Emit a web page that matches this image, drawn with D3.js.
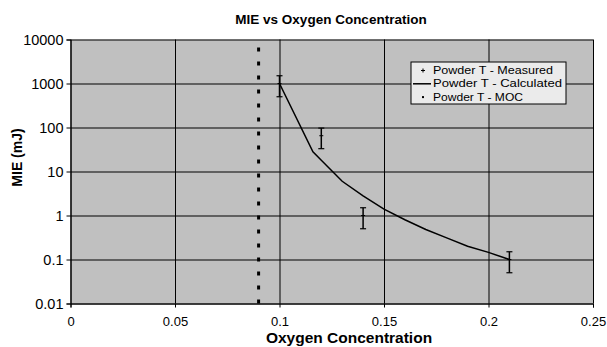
<!DOCTYPE html>
<html>
<head>
<meta charset="utf-8">
<script src="https://cdn.jsdelivr.net/npm/d3@7"></script>
<style>
  body { margin: 0; background: #fff; }
  text { font-family: "Liberation Sans", Arial, sans-serif; }
</style>
</head>
<body>
<figure id="chart" style="margin:0"></figure>
<script>
// measured MIE points with error bars
const measuredX = [0.10, 0.12, 0.14, 0.21];
const measuredY = [1000, 65, 1, 0.1];
const measuredErr = [500, 32, 0.5, 0.05];

// calculated curve
const calcX = [0.10, 0.116, 0.12, 0.13, 0.14, 0.15, 0.16, 0.17, 0.18, 0.19, 0.20, 0.21];
const calcY = [1000, 28, 18, 6, 2.8, 1.4, 0.8, 0.48, 0.31, 0.2, 0.145, 0.1];

// MOC vertical line
const mocX = [0.09, 0.09];
const mocY = [0.01, 10000];

const xTicks = [0, 0.05, 0.1, 0.15, 0.2, 0.25];
const yTicks = [0.01, 0.1, 1, 10, 100, 1000, 10000];
const seriesNames = ["Powder T - Measured", "Powder T - Calculated", "Powder T - MOC"];

const width = 607, height = 347;
const margin = { top: 39.5, right: 14, bottom: 43.5, left: 70.5 };

const svg = d3.select("figure#chart")
  .append("svg")
  .attr("width", width)
  .attr("height", height);

const x = d3.scaleLinear()
  .domain([0, 0.25])
  .range([margin.left, width - margin.right]);

const y = d3.scaleLog()
  .domain([0.01, 10000])
  .range([height - margin.bottom, margin.top]);

// plot area
svg.append("rect")
  .attr("x", x(0))
  .attr("y", y(10000))
  .attr("width", x(0.25) - x(0))
  .attr("height", y(0.01) - y(10000))
  .attr("fill", "#c0c0c0");

// grid lines
svg.append("g")
  .attr("transform", "translate(" + x(0) + ",0)")
  .call(d3.axisLeft(y).tickValues(yTicks).tickSize(-(x(0.25) - x(0))).tickFormat(""))
  .call(g => g.select(".domain").remove())
  .selectAll("line").attr("stroke", "#000");

svg.append("g")
  .attr("transform", "translate(0," + y(0.01) + ")")
  .call(d3.axisBottom(x).tickValues(xTicks).tickSize(-(y(0.01) - y(10000))).tickFormat(""))
  .call(g => g.select(".domain").remove())
  .selectAll("line").attr("stroke", "#000");

// axes
const fmtY = d => d < 1 ? String(d) : d3.format("d")(d);
svg.append("g")
  .attr("transform", "translate(" + x(0) + ",0)")
  .call(d3.axisLeft(y).tickValues(yTicks).tickSize(4).tickPadding(3).tickFormat(fmtY))
  .call(g => g.selectAll("text").attr("font-size", 14.5).attr("fill", "#000").attr("font-family", "Liberation Sans"))
  .call(g => g.selectAll("line, path").attr("stroke", "#000"));

svg.append("g")
  .attr("transform", "translate(0," + y(0.01) + ")")
  .call(d3.axisBottom(x).tickValues(xTicks).tickSize(4).tickPadding(9).tickFormat(d => String(d)))
  .call(g => g.selectAll("text").attr("font-size", 13).attr("fill", "#000").attr("font-family", "Liberation Sans"))
  .call(g => g.selectAll("line, path").attr("stroke", "#000"));

// MOC dotted line
svg.append("path")
  .datum(mocX.map((d, i) => [d, mocY[i]]))
  .attr("d", d3.line().x(d => x(d[0])).y(d => y(d[1])))
  .attr("stroke", "#000")
  .attr("stroke-width", 3)
  .attr("stroke-dasharray", "4,10")
  .attr("fill", "none");

// calculated line
svg.append("path")
  .datum(calcX.map((d, i) => [d, calcY[i]]))
  .attr("d", d3.line().x(d => x(d[0])).y(d => y(d[1])))
  .attr("stroke", "#000")
  .attr("stroke-width", 1.5)
  .attr("fill", "none");

// error bars
const pts = measuredX.map((d, i) => ({ x: d, y: measuredY[i], e: measuredErr[i] }));
const bars = svg.append("g").attr("stroke", "#000");
bars.selectAll(".eb")
  .data(pts)
  .enter()
  .append("line")
  .attr("x1", d => x(d.x)).attr("x2", d => x(d.x))
  .attr("y1", d => y(d.y + d.e)).attr("y2", d => y(d.y - d.e))
  .attr("stroke-width", 1.5);
bars.selectAll(".capTop")
  .data(pts)
  .enter()
  .append("line")
  .attr("x1", d => x(d.x) - 3).attr("x2", d => x(d.x) + 3)
  .attr("y1", d => y(d.y + d.e)).attr("y2", d => y(d.y + d.e))
  .attr("stroke-width", 1.2);
bars.selectAll(".capBot")
  .data(pts)
  .enter()
  .append("line")
  .attr("x1", d => x(d.x) - 3).attr("x2", d => x(d.x) + 3)
  .attr("y1", d => y(d.y - d.e)).attr("y2", d => y(d.y - d.e))
  .attr("stroke-width", 1.2);
bars.selectAll(".mark")
  .data(pts)
  .enter()
  .append("line")
  .attr("x1", d => x(d.x) - 2).attr("x2", d => x(d.x) + 2)
  .attr("y1", d => y(d.y)).attr("y2", d => y(d.y))
  .attr("stroke-width", 1);

// legend
const rowH = 13.3;
const lg = svg.append("g").attr("transform", "translate(411,62)");
lg.append("rect")
  .attr("width", 155).attr("height", 42)
  .attr("fill", "#ebebeb").attr("stroke", "#000").attr("stroke-width", 1);
seriesNames.forEach((name, i) => {
  lg.append("text")
    .attr("x", 22).attr("y", 12 + i * rowH)
    .attr("font-size", 11.5)
    .attr("textLength", [120, 129, 90][i])
    .attr("lengthAdjust", "spacingAndGlyphs")
    .text(name);
});
lg.append("path").attr("d", "M10,8.5h4M12,6.5v4").attr("stroke", "#000").attr("stroke-width", 1);
lg.append("line").attr("x1", 2).attr("x2", 20).attr("y1", 8.5 + rowH).attr("y2", 8.5 + rowH).attr("stroke", "#000").attr("stroke-width", 1.5);
lg.append("rect").attr("x", 11).attr("y", 7.5 + rowH * 2).attr("width", 2).attr("height", 2).attr("fill", "#000");

// titles
svg.append("text")
  .attr("x", 331).attr("y", 24)
  .attr("text-anchor", "middle")
  .attr("font-size", 13.5).attr("font-weight", "bold")
  .text("MIE vs Oxygen Concentration");

svg.append("text")
  .attr("x", 349).attr("y", 343)
  .attr("text-anchor", "middle")
  .attr("font-size", 15.5).attr("font-weight", "bold")
  .text("Oxygen Concentration");

svg.append("text")
  .attr("transform", "translate(21.5,157.5) rotate(-90)")
  .attr("text-anchor", "middle")
  .attr("font-size", 14).attr("font-weight", "bold")
  .text("MIE (mJ)");
</script>
</body>
</html>
